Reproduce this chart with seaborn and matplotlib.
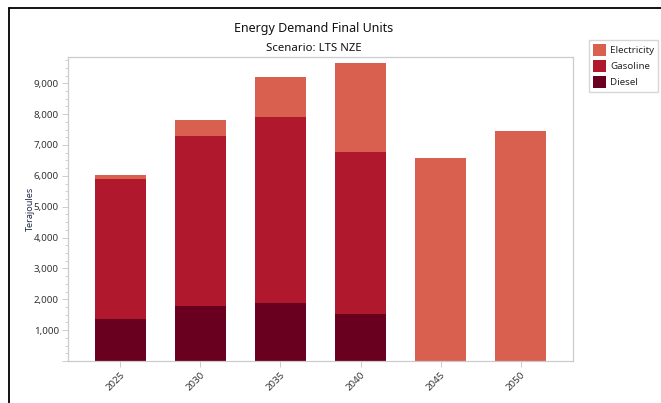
import matplotlib
matplotlib.use("Agg")
import matplotlib.pyplot as plt
from matplotlib.lines import Line2D
from matplotlib.patches import Patch
from matplotlib.ticker import FuncFormatter, MultipleLocator
import pandas as pd
import seaborn as sns

# Data (Terajoules)
years = ["2025", "2030", "2035", "2040", "2045", "2050"]
diesel = [1360, 1780, 1880, 1520, 0, 0]
gasoline = [4530, 5500, 6020, 5240, 0, 0]
electricity = [130, 520, 1290, 2880, 6570, 7440]

colors = {"Electricity": "#d9604f", "Gasoline": "#b0192d", "Diesel": "#690020"}

sns.set_theme(style="white")
plt.rcParams["font.family"] = ["Noto Sans", "DejaVu Sans"]

df = pd.DataFrame({"Year": years, "Diesel": diesel,
                   "Gasoline": gasoline, "Electricity": electricity})
df["GasTop"] = df["Diesel"] + df["Gasoline"]
df["Total"] = df["GasTop"] + df["Electricity"]

fig = plt.figure(figsize=(6.61, 4.03), dpi=100)
ax = fig.add_axes([0.1029, 0.1042, 0.7640, 0.7544])

# stacked bars drawn back to front
for col, name in [("Total", "Electricity"), ("GasTop", "Gasoline"), ("Diesel", "Diesel")]:
    sns.barplot(data=df, x="Year", y=col, color=colors[name], width=0.635,
                saturation=1, linewidth=0, ax=ax)

ax.set_xlim(-0.65, 5.65)
ax.set_ylim(0, 9850)
ax.yaxis.set_major_locator(MultipleLocator(1000))
ax.yaxis.set_minor_locator(MultipleLocator(250))
ax.yaxis.set_major_formatter(FuncFormatter(lambda v, p: "" if v == 0 else f"{int(v):,}"))

for s in ax.spines.values():
    s.set_color("#cccccc")
    s.set_linewidth(0.9)

ax.tick_params(axis="y", which="major", length=4.5, width=0.7, color="#cccccc",
               labelsize=7, labelcolor="#333333", pad=2, left=True)
ax.tick_params(axis="y", which="minor", length=2.2, width=0.6, color="#cccccc", left=True)
ax.tick_params(axis="x", length=4.5, width=0.7, color="#cccccc", labelsize=7,
               labelcolor="#333333", pad=2, bottom=True)
for lbl in ax.get_xticklabels():
    lbl.set_rotation(45)
    lbl.set_ha("right")
    lbl.set_rotation_mode("anchor")

ax.set_xlabel("")
ax.set_ylabel("Terajoules", fontsize=6.5, color="#1f2a44", va="center")
ax.yaxis.set_label_coords(-0.075, 0.5)

fig.text(0.474, 0.929, "Energy Demand Final Units", ha="center", va="center",
         fontsize=9, color="#111111")
fig.text(0.474, 0.879, "Scenario: LTS NZE", ha="center", va="center",
         fontsize=8.2, color="#111111")

handles = [Patch(facecolor=colors[n], edgecolor="none", label=n)
           for n in ["Electricity", "Gasoline", "Diesel"]]
fig.legend(handles=handles, loc="upper left", bbox_to_anchor=(0.891, 0.901),
           fontsize=7, frameon=True, fancybox=False, edgecolor="#cccccc",
           handlelength=1.4, handleheight=1.5, handletextpad=0.4,
           labelspacing=0.45, borderpad=0.4, borderaxespad=0)

# outer frame lines (top and left)
fig.add_artist(Line2D([9 / 661, 1], [1 - 8 / 403, 1 - 8 / 403], color="black", lw=1.3))
fig.add_artist(Line2D([9 / 661, 9 / 661], [0, 1 - 8 / 403], color="black", lw=1.3))

fig.savefig("out.png", dpi=100)
